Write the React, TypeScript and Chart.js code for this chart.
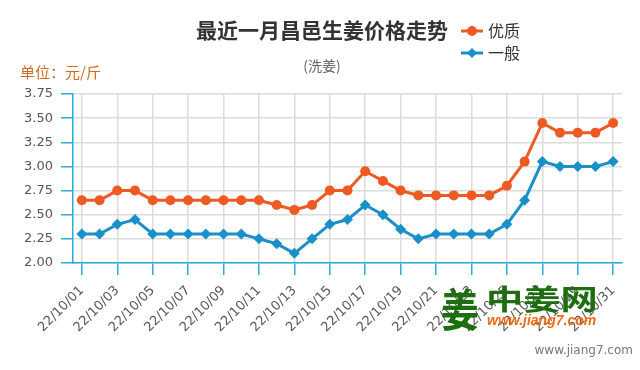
import React, { useEffect, useRef } from "react";
import { Chart, registerables } from "chart.js";

Chart.register(...registerables);

const dates = [
  "22/10/01", "22/10/02", "22/10/03", "22/10/04", "22/10/05", "22/10/06", "22/10/07", "22/10/08",
  "22/10/09", "22/10/10", "22/10/11", "22/10/12", "22/10/13", "22/10/14", "22/10/15", "22/10/16",
  "22/10/17", "22/10/18", "22/10/19", "22/10/20", "22/10/21", "22/10/22", "22/10/23", "22/10/24",
  "22/10/25", "22/10/26", "22/10/27", "22/10/28", "22/10/29", "22/10/30", "22/10/31",
];

const premium = [
  2.65, 2.65, 2.75, 2.75, 2.65, 2.65, 2.65, 2.65, 2.65, 2.65, 2.65, 2.6, 2.55, 2.6, 2.75, 2.75,
  2.95, 2.85, 2.75, 2.7, 2.7, 2.7, 2.7, 2.7, 2.8, 3.05, 3.45, 3.35, 3.35, 3.35, 3.45,
];

const ordinary = [
  2.3, 2.3, 2.4, 2.45, 2.3, 2.3, 2.3, 2.3, 2.3, 2.3, 2.25, 2.2, 2.1, 2.25, 2.4, 2.45,
  2.6, 2.5, 2.35, 2.25, 2.3, 2.3, 2.3, 2.3, 2.4, 2.65, 3.05, 3.0, 3.0, 3.0, 3.05,
];

const seriesNames = ["优质", "一般"];
const titleText = "最近一月昌邑生姜价格走势";
const subtitleText = "(洗姜)";
const unitText = "单位：元/斤";
const yMin = 2;
const yMax = 3.75;
const yStep = 0.25;

const ORANGE = "#ee5a24";
const BLUE = "#1a90c8";
const AXIS = "#2aaae2";
const GRID = "#dcdcdc";
const CJK = '"Noto Sans CJK SC", sans-serif';

const decorPlugin = {
  id: "decor",
  afterDraw(chart: any) {
    const ctx = chart.ctx as CanvasRenderingContext2D;
    ctx.save();
    // title
    ctx.textBaseline = "middle";
    ctx.textAlign = "center";
    ctx.fillStyle = "#333";
    ctx.font = `bold 21px ${CJK}`;
    ctx.fillText(titleText, 322, 30);
    // subtitle
    ctx.fillStyle = "#666";
    ctx.font = `14px ${CJK}`;
    ctx.fillText(subtitleText, 322, 66);
    // unit
    ctx.textAlign = "left";
    ctx.fillStyle = "#d2691e";
    ctx.font = `15px ${CJK}`;
    ctx.fillText(unitText, 20, 72);
    // legend
    chart.data.datasets.forEach((ds: any, i: number) => {
      const y = 31 + i * 22;
      ctx.strokeStyle = ds.borderColor;
      ctx.lineWidth = 3;
      ctx.beginPath();
      ctx.moveTo(461, y);
      ctx.lineTo(483, y);
      ctx.stroke();
      ctx.fillStyle = ds.borderColor;
      ctx.beginPath();
      if (ds.pointStyle === "rectRot") {
        ctx.moveTo(472, y - 5);
        ctx.lineTo(477, y);
        ctx.lineTo(472, y + 5);
        ctx.lineTo(467, y);
        ctx.closePath();
      } else {
        ctx.arc(472, y, 5, 0, Math.PI * 2);
      }
      ctx.fill();
      ctx.fillStyle = "#333";
      ctx.font = `16px ${CJK}`;
      ctx.textAlign = "left";
      ctx.fillText(ds.label, 488, y);
    });
    // watermark logo
    ctx.fillStyle = "#1d6e0f";
    ctx.textBaseline = "alphabetic";
    ctx.save();
    ctx.translate(441, 327);
    ctx.scale(1.05, 1.25);
    ctx.font = `bold 36px ${CJK}`;
    ctx.fillText("姜", 0, 0);
    ctx.restore();
    ctx.save();
    ctx.translate(486, 310);
    ctx.scale(1.33, 1);
    ctx.font = `bold 28px ${CJK}`;
    ctx.fillText("中姜网", 0, 0);
    ctx.restore();
    ctx.fillStyle = "#f26b10";
    ctx.font = `italic bold 14px "Liberation Sans", sans-serif`;
    ctx.fillText("www.jiang7.com", 487, 325);
    // bottom url
    ctx.fillStyle = "#777";
    ctx.font = `12px "DejaVu Sans", sans-serif`;
    ctx.textAlign = "right";
    ctx.fillText("www.jiang7.com", 633, 354);
    ctx.restore();
  },
};

export default function App() {
  const ref = useRef<HTMLCanvasElement | null>(null);
  useEffect(() => {
    if (!ref.current) return;
    const chart = new Chart(ref.current, {
      type: "line",
      data: {
        labels: dates,
        datasets: [
          {
            label: seriesNames[0],
            data: premium,
            borderColor: ORANGE,
            backgroundColor: ORANGE,
            borderWidth: 3,
            pointStyle: "circle",
            pointRadius: 5,
            pointBorderWidth: 0,
            pointBackgroundColor: ORANGE,
            tension: 0,
          },
          {
            label: seriesNames[1],
            data: ordinary,
            borderColor: BLUE,
            backgroundColor: BLUE,
            borderWidth: 3,
            pointStyle: "rectRot",
            pointRadius: 5.5,
            pointBorderWidth: 0,
            pointBackgroundColor: BLUE,
            tension: 0,
          },
        ],
      },
      options: {
        responsive: false,
        animation: false,
        layout: { padding: { top: 94, left: 0, right: 18, bottom: 0 } },
        plugins: {
          legend: { display: false },
          title: { display: false },
          tooltip: { enabled: false },
        },
        scales: {
          x: {
            type: "category",
            offset: true,
            afterFit: (s: any) => {
              s.height = 107;
            },
            grid: {
              color: (c: any) => (c.index % 2 === 0 ? GRID : "rgba(0,0,0,0)"),
              tickColor: (c: any) => (c.index % 2 === 0 ? AXIS : "rgba(0,0,0,0)"),
              tickLength: 12,
              lineWidth: 1.5,
            },
            border: { color: AXIS, width: 1.5 },
            ticks: {
              autoSkip: false,
              minRotation: 45,
              maxRotation: 45,
              padding: 8,
              color: "#555",
              font: { family: "DejaVu Sans", size: 13 },
              callback: (_v: any, i: number) => (i % 2 === 0 ? dates[i] : ""),
            },
          },
          y: {
            min: yMin,
            max: yMax,
            afterFit: (s: any) => {
              s.width = 73;
            },
            grid: { color: GRID, tickColor: AXIS, tickLength: 12, lineWidth: 1.5 },
            border: { color: AXIS, width: 1.5 },
            ticks: {
              stepSize: yStep,
              padding: 8,
              color: "#555",
              font: { family: "DejaVu Sans", size: 13 },
              callback: (v: any) => Number(v).toFixed(2),
            },
          },
        },
      },
      plugins: [decorPlugin],
    });
    return () => chart.destroy();
  }, []);
  return (
    <div style={{ position: "fixed", left: 0, top: 0, width: 640, height: 370, background: "#fff" }}>
      <canvas ref={ref} width={640} height={370} />
    </div>
  );
}
